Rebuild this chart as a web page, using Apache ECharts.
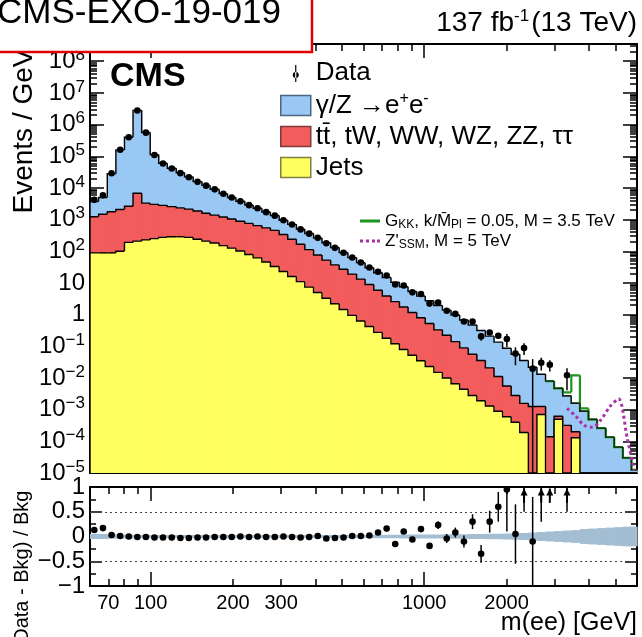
<!DOCTYPE html>
<html><head><meta charset="utf-8">
<script src="https://cdn.jsdelivr.net/npm/echarts@6/dist/echarts.min.js"></script>
<style>html,body{margin:0;padding:0;background:#fff}#c{width:642px;height:637px}</style>
</head><body><div id="c"></div>
<script>
// ---------------- data ----------------
const binEdges = [60,64.5,69.4,74.6,80.2,86.2,92.7,99.6,107,115,124,133,143,154,165,178,191,205,221,237,255,274,295,317,341,366,394,423,455,489,526,566,608,654,703,756,812,873,939,1009,1085,1166,1254,1348,1449,1558,1674,1800,1935,2080,2236,2404,2584,2778,2986,3210,3451,3710,3988,4287,4609,4954,5326,5726,6000];
// events / GeV per bin
const jetsBkg = [89,89,89,100,191,209,229,251,275,288,288,275,240,209,182,151,126,102,79,62,46,33,23,16,11,7.4,5.0,3.3,2.2,1.45,0.95,0.63,0.42,0.275,0.18,0.12,0.079,0.052,0.035,0.023,0.015,0.010,0.0066,0.0044,0.0028,0.0019,0.0013,0.00089,0.0006,0.0004,0.00019,0,0.0007,0,0.0005,0,0.00013,0,0,0,0,0,0,0];
const topBkg = [1141,1390,1689,1989,2439,6552,3082,2769,2543,2282,2056,1863,1622,1376,1198,1051,921,789,680,584,504,424,316,224,155,105,70.9,49.2,35.0,25.5,18.1,12.6,8.49,5.62,3.71,2.45,1.66,1.12,0.759,0.502,0.316,0.214,0.134,0.0847,0.0534,0.0336,0.0196,0.0103,0.0050,0.0024,0.00139,0.00126,0.00056,0.00014,0.00012,0.00032,0.00007,0,0,0,0,0,0,0];
const dyBkg = [2485,3533,26406,156400,395477,2811622,559030,109182,57438,39117,27856,20249,13987,10438,7740,5405,3965,2911,2125,1645,1188,892,616,468,335,251,187,134,95,64.3,44.0,30.5,21.3,15.0,10.9,7.93,5.85,4.20,3.10,2.23,1.62,1.16,0.836,0.587,0.412,0.281,0.188,0.124,0.0814,0.0534,0.0339,0.0206,0.0119,0.0078,0.0041,0.0024,0.0014,0.00089,0.00049,0.00026,0.000135,0.000066,0.000030,0.0000126];
// (data - bkg) / bkg and its uncertainty per bin (null = no events)
const dataRatio = [0.13,0.17,0.03,0.01,0.0,-0.01,-0.01,-0.02,-0.02,-0.02,-0.03,-0.03,-0.02,-0.02,-0.01,-0.01,-0.01,0.0,-0.01,0.0,-0.01,-0.01,0.0,-0.01,-0.02,-0.01,0.01,-0.04,-0.03,-0.02,0.01,0.01,0.02,0.08,0.16,-0.15,0.10,-0.06,0.15,-0.19,0.23,-0.04,0.08,-0.10,0.30,-0.35,0.30,0.60,0.95,0.05,1.5,-0.10,1.3,2.3,null,3.5,null,null,null,null,null,null,null,null];
const dataRatioErr = [0.01,0.01,0.01,0.01,0.01,0.01,0.01,0.01,0.01,0.01,0.01,0.01,0.01,0.01,0.01,0.01,0.01,0.01,0.01,0.01,0.01,0.01,0.01,0.01,0.01,0.01,0.01,0.01,0.01,0.01,0.02,0.02,0.03,0.03,0.04,0.04,0.05,0.05,0.06,0.06,0.08,0.09,0.10,0.12,0.15,0.18,0.22,0.30,0.85,0.60,1.0,0.9,1.0,1.3,0,3.0,0,0,0,0,0,0,0,0];
const systBand = [0.05,0.05,0.045,0.04,0.035,0.03,0.03,0.03,0.03,0.03,0.03,0.03,0.03,0.03,0.03,0.03,0.03,0.03,0.03,0.03,0.03,0.03,0.03,0.03,0.03,0.03,0.03,0.03,0.03,0.03,0.03,0.03,0.03,0.035,0.035,0.035,0.04,0.04,0.04,0.04,0.04,0.045,0.045,0.045,0.05,0.05,0.055,0.055,0.06,0.065,0.07,0.08,0.09,0.10,0.11,0.12,0.13,0.15,0.16,0.17,0.18,0.19,0.20,0.20];
// signals (events / GeV)
const gkkSignal = [0,0,0,0,0,0,0,0,0,0,0,0,0,0,0,0,0,0,0,0,0,0,0,0,0,0,0,0,0,0,0,0,0,0,0,0,0,0,0,0,0,0,0,0,0,0,0,0,0,0,0,0,0,0,0,0.0008,0.0105,0.0002,0,0,0,0,0,0];
const zpSignal = [0,0,0,0,0,0,0,0,0,0,0,0,0,0,0,0,0,0,0,0,0,0,0,0,0,0,0,0,0,0,0,0,0,0,0,0,0,0,0,0,0,0,0,0,0,0,0,0,0,0,0,0,0,0,0,0.0011,0.00063,0.00032,0.00028,0.0005,0.00126,0.0022,0.00013,0.000012];
// axis ticks
const xMajorTicks = [100, 1000];
const xMinorTicks = [70,80,90,200,300,400,500,600,700,800,900,2000,3000,4000,5000];
const xTickLabels = [70,100,200,300,1000,2000];
const yDecadeTicks = [1e-5,1e-4,1e-3,1e-2,1e-1,1,10,1e2,1e3,1e4,1e5,1e6,1e7,1e8];
const ratioTicks = [-1,-0.5,0,0.5,1];
const ratioMinorTicks = [-0.75,-0.25,0.25,0.75];

// ---------------- setup ----------------
const YMIN = 1e-5, YMAX = 3.5e8, XMIN = 60, XMAX = 6000;
const FONT = 'Liberation Sans';
const BLUE = '#99c8f5', RED = '#f25c5c', YEL = '#ffff60';
const GREEN = '#1e961e', PURPLE = '#a832a8';
const yMinorTicks = [];
yDecadeTicks.forEach(d => { for (let k = 2; k <= 9; k++) { const v = k * d; if (v < YMAX) yMinorTicks.push(v); } });

const nb = jetsBkg.length;
const lo = binEdges.slice(0, -1), hi = binEdges.slice(1);
const ctr = lo.map((l, i) => Math.sqrt(l * hi[i]));
const stJets = jetsBkg.slice();
const stTop = jetsBkg.map((v, i) => v + topBkg[i]);
const stAll = stTop.map((v, i) => v + dyBkg[i]);
const gkkTotal = stAll.map((v, i) => v + gkkSignal[i]);

function histSeries(name, tops, color, z, opts) {
  opts = opts || {};
  const from = opts.from || 0;
  const data = [];
  for (let i = from; i < nb; i++) {
    const prev = i > from ? tops[i - 1] : (opts.startPrev === 'self' ? tops[i] : 0);
    data.push([lo[i], hi[i], tops[i], prev]);
  }
  return {
    name, type: 'custom', xAxisIndex: 0, yAxisIndex: 0, z, silent: true,
    encode: { x: [0, 1], y: 2 }, data,
    renderItem: (params, api) => {
      const x0 = api.value(0), x1 = api.value(1);
      const t = Math.max(api.value(2), YMIN), p = Math.max(api.value(3), YMIN);
      const a = api.coord([x0, t]), b = api.coord([x1, YMIN]), pp = api.coord([x0, p]), e = api.coord([x1, t]);
      const ch = [];
      if (color && t > YMIN) ch.push({ type: 'rect', shape: { x: a[0], y: a[1], width: b[0] - a[0] + 0.7, height: b[1] - a[1] }, style: { fill: color } });
      ch.push({ type: 'polyline', shape: { points: [pp, a, e] },
        style: { stroke: opts.stroke || '#000', lineWidth: opts.lineWidth || 1.4, fill: null } });
      return { type: 'group', children: ch };
    }
  };
}

const mainData = [], ratioData = [];
for (let i = 0; i < nb; i++) {
  if (dataRatio[i] === null) continue;
  mainData.push([ctr[i], stAll[i] * (1 + dataRatio[i]), stAll[i] * dataRatioErr[i]]);
  ratioData.push([ctr[i], dataRatio[i], dataRatioErr[i]]);
}
const bandData = systBand.map((h, i) => [lo[i], hi[i], h]);
const zpLine = [];
for (let i = 0; i < nb; i++) if (zpSignal[i] > 0) zpLine.push([ctr[i], zpSignal[i]]);

function xAx(grid, pos, ticks, len, line, labels) {
  return {
    type: 'log', gridIndex: grid, position: pos, min: XMIN, max: XMAX, logBase: 10,
    axisLine: { show: line, onZero: false, lineStyle: { color: '#000', width: 2 } },
    axisTick: { show: true, inside: true, length: len, customValues: ticks, lineStyle: { color: '#000', width: 1.5 } },
    axisLabel: labels ? { show: true, customValues: xTickLabels, fontSize: 20, color: '#000', margin: 7, fontFamily: FONT, hideOverlap: false,
      formatter: v => String(Math.round(v)) } : { show: false },
    splitLine: { show: false }, minorTick: { show: false }
  };
}
const supRich = { b: { fontSize: 24, fontFamily: FONT, color: '#000' }, s: { fontSize: 17, fontFamily: FONT, color: '#000', padding: [0, 0, 12, 0] } };
function yLog(pos, ticks, len, line, labels) {
  return {
    type: 'log', gridIndex: 0, position: pos, min: YMIN, max: YMAX, logBase: 10,
    axisLine: { show: line, onZero: false, lineStyle: { color: '#000', width: 2 } },
    axisTick: { show: true, inside: true, length: len, customValues: ticks, lineStyle: { color: '#000', width: 1.5 } },
    axisLabel: labels ? {
      show: true, customValues: yDecadeTicks, margin: 5, hideOverlap: false,
      formatter: v => { const e = Math.round(Math.log10(v)); if (e === 0) return '{b|1}'; if (e === 1) return '{b|10}'; return '{b|10}{s|' + (e < 0 ? '\u2212' + (-e) : e) + '}'; },
      rich: supRich
    } : { show: false },
    splitLine: { show: false }, minorTick: { show: false }
  };
}
function yRat(pos, ticks, len, line, labels) {
  return {
    type: 'value', gridIndex: 1, position: pos, min: -1, max: 1,
    axisLine: { show: line, onZero: false, lineStyle: { color: '#000', width: 2 } },
    axisTick: { show: true, inside: true, length: len, customValues: ticks, lineStyle: { color: '#000', width: 1.5 } },
    axisLabel: labels ? { show: true, customValues: ratioTicks, fontSize: 24, color: '#000', fontFamily: FONT, margin: 5, hideOverlap: false,
      formatter: v => v === 0 ? '0' : (v < 0 ? '\u2212' + (-v) : String(v)) } : { show: false },
    splitLine: { show: false }
  };
}

const dataIcon = 'path://M0,0 L0.01,0 Z M29.99,20 L30,20 Z M14.4,2 L15.6,2 L15.6,19 L14.4,19 Z M12,12 A3,3 0 1 0 18,12 A3,3 0 1 0 12,12 Z';

const option = {
  animation: false,
  backgroundColor: '#fff',
  textStyle: { fontFamily: FONT },
  grid: [
    { left: 90, top: 44, width: 547, height: 429, containLabel: false, outerBoundsMode: 'none' },
    { left: 90, top: 487, width: 547, height: 99, containLabel: false, outerBoundsMode: 'none' }
  ],
  xAxis: [
    xAx(0, 'bottom', xMinorTicks, 7, true, false),
    xAx(0, 'bottom', xMajorTicks, 14, false, false),
    xAx(0, 'top', xMinorTicks, 7, true, false),
    xAx(0, 'top', xMajorTicks, 14, false, false),
    xAx(1, 'bottom', xMinorTicks, 7, true, true),
    xAx(1, 'bottom', xMajorTicks, 14, false, false),
    xAx(1, 'top', xMinorTicks, 7, true, false),
    xAx(1, 'top', xMajorTicks, 14, false, false)
  ],
  yAxis: [
    yLog('left', yDecadeTicks, 14, true, true),
    yLog('left', yMinorTicks, 7, false, false),
    yLog('right', yDecadeTicks, 14, true, false),
    yLog('right', yMinorTicks, 7, false, false),
    yRat('left', ratioTicks, 12, true, true),
    yRat('left', ratioMinorTicks, 6, false, false),
    yRat('right', ratioTicks, 12, true, false),
    yRat('right', ratioMinorTicks, 6, false, false)
  ],
  title: [
    { text: 'CMS', left: 110, top: 60, padding: 0, textStyle: { fontSize: 34, fontWeight: 'bold', fontFamily: FONT, color: '#000', lineHeight: 34 } },
    { text: '{a|137 fb}{s|-1}{a|(13 TeV)}', right: 5, top: 8, padding: 0, textStyle: { fontWeight: 'normal', rich: {
      a: { fontSize: 28, fontFamily: FONT, color: '#000', fontWeight: 'normal' },
      s: { fontSize: 17, fontFamily: FONT, color: '#000', fontWeight: 'normal', padding: [0, 2, 13, 0] } } } }
  ],
  legend: [
    {
      left: 280, top: 60, padding: 0, orient: 'vertical', itemWidth: 30, itemHeight: 20, itemGap: 5, selectedMode: false,
      textStyle: { fontSize: 26, color: '#000', fontFamily: FONT, lineHeight: 26, rich: {
        t: { fontSize: 26, fontFamily: FONT, color: '#000' },
        s: { fontSize: 16, fontFamily: FONT, color: '#000', padding: [0, 0, 13, 0] } } },
      formatter: n => ({ Data: '{t|Data}', DY: '{t|\u03b3/Z \u2192e}{s|+}{t|e}{s|-}', TOP: '{t|tt\u0304, tW, WW, WZ, ZZ, \u03c4\u03c4}', JETS: '{t|Jets}' })[n],
      data: [
        { name: 'Data', icon: dataIcon, itemStyle: { color: '#000', borderWidth: 0 } },
        { name: 'DY', icon: 'rect', itemStyle: { color: BLUE, borderColor: '#4d6680', borderWidth: 1.5 } },
        { name: 'TOP', icon: 'rect', itemStyle: { color: RED, borderColor: '#803838', borderWidth: 1.5 } },
        { name: 'JETS', icon: 'rect', itemStyle: { color: YEL, borderColor: '#808040', borderWidth: 1.5 } }
      ]
    },
    {
      left: 360, top: 211, padding: 0, orient: 'vertical', itemWidth: 20, itemHeight: 3, itemGap: 0, selectedMode: false,
      textStyle: { fontSize: 17, color: '#000', fontFamily: FONT, lineHeight: 20, rich: {
        a: { fontSize: 17, fontFamily: FONT, color: '#000' },
        b: { fontSize: 12, fontFamily: FONT, color: '#000', padding: [7, 0, 0, 0] } } },
      formatter: n => ({ GKK: '{a|G}{b|KK}{a|, k/M\u0304}{b|Pl}{a| = 0.05, M = 3.5 TeV}', ZP: "{a|Z'}{b|SSM}{a|, M = 5 TeV}" })[n],
      data: [
        { name: 'GKK', icon: 'path://M0,0 L20,0 L20,3 L0,3 Z', itemStyle: { color: GREEN } },
        { name: 'ZP', icon: 'path://M0,0h3v3h-3Z M6,0h3v3h-3Z M12,0h3v3h-3Z M17,0h3v3h-3Z', itemStyle: { color: PURPLE } }
      ]
    }
  ],
  series: [
    histSeries('DY', stAll, BLUE, 2),
    histSeries('TOP', stTop, RED, 3),
    histSeries('JETS', stJets, YEL, 4),
    histSeries('GKK', gkkTotal, null, 5, { from: 53, startPrev: 'self', stroke: GREEN, lineWidth: 2.2 }),
    histSeries('DYline', stAll, null, 6, { from: 53, startPrev: 'self', stroke: '#102810', lineWidth: 1.3 }),
    { name: 'ZP', type: 'line', xAxisIndex: 0, yAxisIndex: 0, z: 7, silent: true, symbol: 'none', smooth: 0.3,
      data: zpLine, lineStyle: { color: PURPLE, width: 3, type: [3, 3] } },
    { name: 'Data', type: 'custom', xAxisIndex: 0, yAxisIndex: 0, z: 10, silent: true, encode: { x: 0, y: 1 },
      data: mainData,
      renderItem: (params, api) => {
        const c = api.value(0), v = api.value(1), e = api.value(2);
        const p = api.coord([c, v]), a = api.coord([c, Math.max(v - e, YMIN)]), b = api.coord([c, v + e]);
        return { type: 'group', children: [
          { type: 'line', shape: { x1: a[0], y1: a[1], x2: b[0], y2: b[1] }, style: { stroke: '#000', lineWidth: 1.5 } },
          { type: 'circle', shape: { cx: p[0], cy: p[1], r: 3.3 }, style: { fill: '#000' } }
        ] };
      } },
    { name: 'band', type: 'custom', xAxisIndex: 4, yAxisIndex: 4, z: 2, silent: true, encode: { x: [0, 1], y: 2 },
      data: bandData,
      renderItem: (params, api) => {
        const a = api.coord([api.value(0), api.value(2)]), b = api.coord([api.value(1), -api.value(2)]);
        return { type: 'rect', shape: { x: a[0], y: a[1], width: b[0] - a[0] + 0.6, height: b[1] - a[1] }, style: { fill: '#a3bed3' } };
      } },
    { name: 'ref', type: 'line', xAxisIndex: 4, yAxisIndex: 4, z: 3, silent: true, data: [], symbol: 'none',
      markLine: { silent: true, symbol: 'none', label: { show: false }, lineStyle: { color: '#444', type: [2, 3], width: 1 },
        data: [{ yAxis: 0.5 }, { yAxis: -0.5 }] } },
    { name: 'ratio', type: 'custom', xAxisIndex: 4, yAxisIndex: 4, z: 10, silent: true, encode: { x: 0, y: 1 },
      data: ratioData,
      renderItem: (params, api) => {
        const c = api.value(0), r = api.value(1), e = api.value(2);
        const ch = [];
        const lowV = Math.max(r - e, -1), highV = Math.min(r + e, 1);
        if (lowV < highV) {
          const a = api.coord([c, lowV]), b = api.coord([c, highV]);
          ch.push({ type: 'line', shape: { x1: a[0], y1: a[1], x2: b[0], y2: b[1] }, style: { stroke: '#000', lineWidth: 1.5 } });
        }
        if (r > 1) {
          const a0 = api.coord([c, 0.68]), a1 = api.coord([c, 0.97]);
          ch.push({ type: 'line', shape: { x1: a0[0], y1: a0[1], x2: a1[0], y2: a1[1] }, style: { stroke: '#000', lineWidth: 2 } });
          ch.push({ type: 'polygon', shape: { points: [[a1[0] - 3.5, a1[1] + 7], [a1[0] + 3.5, a1[1] + 7], [a1[0], a1[1]]] }, style: { fill: '#000' } });
        } else {
          const p = api.coord([c, r]);
          ch.push({ type: 'circle', shape: { cx: p[0], cy: p[1], r: 3.3 }, style: { fill: '#000' } });
        }
        return { type: 'group', children: ch };
      } }
  ],
  graphic: [
    { type: 'text', x: 24, y: 131, rotation: Math.PI / 2, z: 50,
      style: { text: 'Events / GeV', font: '28px "Liberation Sans"', fill: '#000', align: 'center', verticalAlign: 'middle' } },
    { type: 'text', x: 22, y: 570, rotation: Math.PI / 2, z: 50,
      style: { text: '(Data - Bkg) / Bkg', font: '20px "Liberation Sans"', fill: '#000', align: 'center', verticalAlign: 'middle' } },
    { type: 'text', x: 637, y: 623, z: 50,
      style: { text: 'm(ee) [GeV]', font: '25px "Liberation Sans"', fill: '#000', align: 'right', verticalAlign: 'middle' } },
    { type: 'rect', z: 100, shape: { x: -3, y: -3, width: 315, height: 55 }, style: { fill: '#fff', stroke: '#e00000', lineWidth: 2.5 } },
    { type: 'text', z: 101, x: -3, y: 13,
      style: { text: 'CMS-EXO-19-019', font: '35px "Liberation Sans"', fill: '#000', align: 'left', verticalAlign: 'middle' } }
  ]
};
const chart = echarts.init(document.getElementById('c'), null, { renderer: 'canvas' });
chart.setOption(option);
</script></body></html>
